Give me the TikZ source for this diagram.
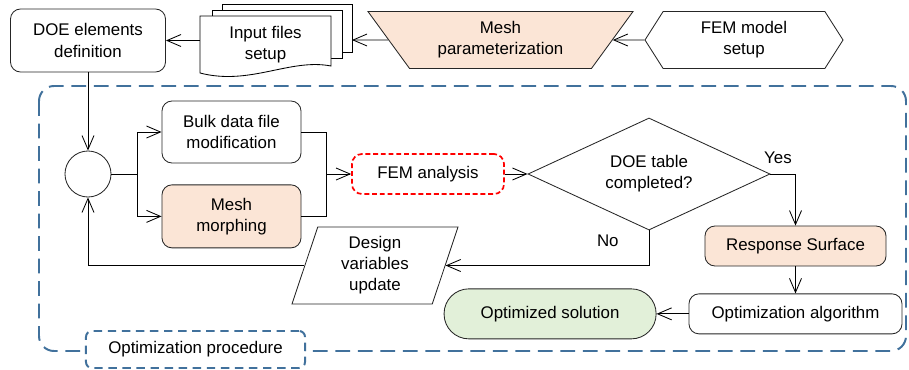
\documentclass[tikz,border=0pt]{standalone}
\usepackage{fontspec}
\setmainfont{Liberation Sans}
\usetikzlibrary{shapes.geometric, shapes.symbols, arrows.meta, positioning, calc}

\definecolor{peach}{RGB}{251,229,214}
\definecolor{mint}{RGB}{226,240,217}
\definecolor{procblue}{RGB}{65,113,156}

\begin{document}
\begin{tikzpicture}[x=0.025cm, y=-0.025cm, >={Straight Barb[length=3.5mm, width=3mm]}, font=\fontsize{12}{15}\selectfont]

        % --- styles ---
        \tikzstyle{process} = [rectangle, rounded corners=0.25cm, draw=black!85, line width=0.6pt, fill=white, align=center, inner sep=2pt]
        \tikzstyle{shaded} = [process, fill=peach]
        \tikzstyle{flow} = [line width=0.6pt, ->]
        \tikzstyle{line} = [line width=0.6pt]

        \useasboundingbox (0,0) rectangle (909,369);

        % --- dashed frame of the loop ---
        \draw[procblue, line width=1.4pt, dash pattern=on 10.5pt off 5.5pt, rounded corners=0.375cm] (39,86) rectangle (906,351);
        \node (proc) [draw=procblue, fill=white, line width=1.4pt, dash pattern=on 6pt off 4pt, rounded corners=0.15cm, minimum width=5.475cm, minimum height=0.925cm] at (195.5,349.5) {Optimization procedure};

        % --- top row ---

        % 1. DOE elements
        \node (doe) [process, minimum width=3.875cm, minimum height=1.575cm] at (88,40.5) {DOE elements\\definition};

        % 2. Input files (stack of pages)
        \draw[line, fill=white] (222,4) rectangle (352,52);
        \draw[line, fill=white] (212,10) rectangle (342,58);
        \draw[line, fill=white] (200,16) -- (331,16) -- (331,66) .. controls (290,58) and (250,86) .. (200,73) -- cycle;
        \node (input) [minimum width=3.275cm, minimum height=1.25cm, align=center] at (265.5,45) {Input files\\setup};
        \coordinate (stack) at (352,40);

        % 3. Mesh parameterization
        \node (param) [trapezium, shape border rotate=180, trapezium left angle=48, trapezium right angle=48, trapezium stretches body, minimum width=6.625cm, minimum height=1.425cm, draw=black!85, line width=0.6pt, fill=peach, align=center] at (500.5,40) {Mesh\\parameterization};

        % 4. FEM model setup
        \node (femsetup) [signal, signal to=east and west, signal pointer angle=115, draw=black!85, line width=0.6pt, minimum width=4.95cm, minimum height=1.425cm, align=center] at (744,40) {FEM model\\setup};

        % --- loop ---
        \node (merge) [circle, draw=black!85, line width=0.6pt, minimum size=1.15cm] at (88,174) {};
        \coordinate (split) at (137,174);
        \node (bulk) [process, minimum width=3.475cm, minimum height=1.55cm] at (231.5,132) {Bulk data file\\modification};
        \node (morph) [shaded, minimum width=3.475cm, minimum height=1.575cm, below=0.525cm of bulk] {Mesh\\morphing};
        \coordinate (join) at (326,174);

        \node (fem) [process, draw=red, line width=1.2pt, dash pattern=on 3.5pt off 2pt, minimum width=3.8cm, minimum height=1cm] at (428,174) {FEM analysis};
        \node (doetab) [diamond, draw=black!85, line width=0.6pt, aspect=2.16, minimum width=6.05cm, minimum height=2.8cm, inner sep=0pt, align=center] at (649,174) {DOE table\\completed?};

        \node (resp) [shaded, minimum width=4.525cm, minimum height=1cm] at (795.5,246) {Response Surface};
        \node (optalg) [process, minimum width=5.325cm, minimum height=1cm, below=0.675cm of resp] {Optimization algorithm};
        \node (optsol) [process, fill=mint, rounded corners=0.62cm, minimum width=5.3cm, minimum height=1.25cm, left=0.8cm of optalg] {Optimized solution};

        \node (design) [trapezium, trapezium left angle=67, trapezium right angle=113, trapezium stretches body, draw=black!85, line width=0.6pt, minimum width=4.15cm, minimum height=1.925cm, align=center, inner sep=1pt] at (375,265.5) {Design\\variables\\update};

        % --- connectors ---
        \draw[flow] (input.west |- doe.east) -- (doe.east);
        \draw[flow] (param) -- (stack);
        \draw[flow] (femsetup) -- (param);
        \draw[flow] (doe) -- (merge);
        \draw[line] (merge) -- (split);
        \draw[flow] (split) |- (bulk);
        \draw[flow] (split) |- (morph);
        \draw[line] (bulk) -| (join);
        \draw[line] (morph) -| (join);
        \draw[flow] (join) -- (fem);
        \draw[flow] (fem) -- (doetab);
        \draw[flow] (doetab.east) -| node[pos=0.15, above=4pt] {Yes} (resp);
        \draw[flow] (doetab.south) |- node[pos=0.15, left=18pt] {No} (design);
        \draw[flow] (design) -| (merge);
        \draw[flow] (resp) -- (optalg);
        \draw[flow] (optalg) -- (optsol);

\end{tikzpicture}
\end{document}
